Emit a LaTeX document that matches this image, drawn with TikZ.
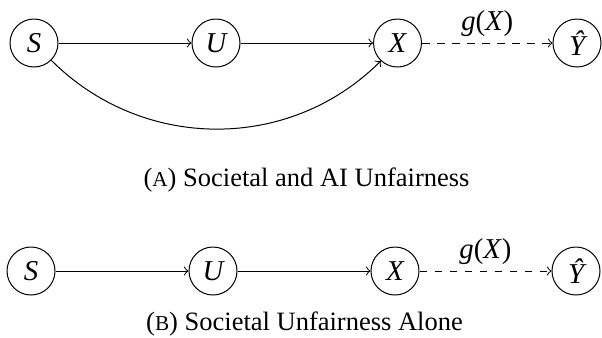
\documentclass[tikz,border=0pt]{standalone}
\usepackage{fontspec}
\setmainfont{Liberation Serif}
\begin{document}
\begin{tikzpicture}[x=1pt,y=1pt,
  var/.style={draw,circle,minimum size=19.2pt,inner sep=0pt,font=\fontsize{11.5}{13}\selectfont\itshape},
  lbl/.style={font=\fontsize{11.5}{13}\selectfont},
  captext/.style={font=\fontsize{10.6}{12}\selectfont},
  arr/.style={->},
  darr/.style={->,dashed}]
\useasboundingbox (0,0) rectangle (240.8,134.8);
% row A
\node[var] (s1) at (13.6,117.6) {S};
\node[var] (u1) at (86.4,117.6) {U};
\node[var] (x1) at (159,117.6) {X};
\node[var] (y1) at (230.8,117.6) {\^{Y}};
\draw[arr] (s1) -- (u1);
\draw[arr] (u1) -- (x1);
\draw[darr] (x1) -- node[lbl,midway,yshift=7.6pt] {\textit{g}(\textit{X})} (y1);
\draw[arr] (s1.-45) to[out=-45,in=-135,looseness=1] (x1.-133);
\node[captext] (ca) at (122.6,62.8) {({\fontsize{8.5}{10}\selectfont A}) Societal and AI Unfairness};
% row B
\node[var] (s2) at (12.4,26.4) {S};
\node[var] (u2) at (85.2,26.4) {U};
\node[var] (x2) at (158,26.4) {X};
\node[var] (y2) at (230.4,26.4) {\^{Y}};
\draw[arr] (s2) -- (u2);
\draw[arr] (u2) -- (x2);
\draw[darr] (x2) -- node[lbl,midway,yshift=7.6pt] {\textit{g}(\textit{X})} (y2);
\node[captext] (cb) at (121.8,5.4) {({\fontsize{8.5}{10}\selectfont B}) Societal Unfairness Alone};
\end{tikzpicture}
\end{document}
